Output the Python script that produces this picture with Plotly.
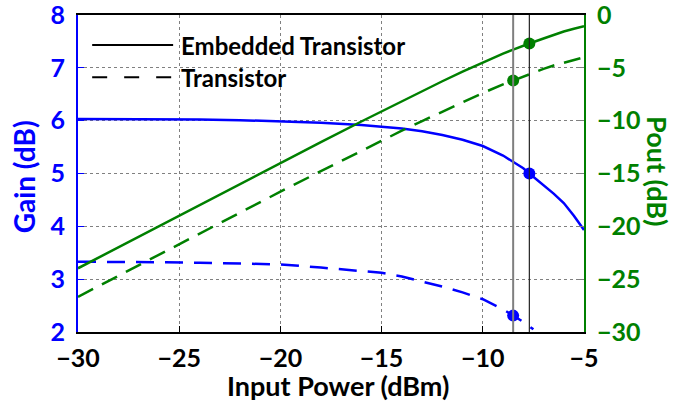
import plotly.graph_objects as go

# ---- data ----
pin_emb = [-30, -28, -26, -24, -22, -20, -18, -16, -15, -14, -13, -12, -11, -10, -9, -8.5, -8, -7.7, -7, -6.5, -6, -5.5, -5]
gain_emb = [6.03, 6.03, 6.02, 6.02, 6.01, 5.99, 5.96, 5.92, 5.89, 5.85, 5.80, 5.73, 5.64, 5.52, 5.34, 5.22, 5.10, 5.00, 4.78, 4.62, 4.44, 4.20, 3.93]
pout_emb = [-23.97, -21.97, -19.98, -17.98, -15.99, -14.01, -12.04, -10.08, -9.11, -8.15, -7.20, -6.27, -5.36, -4.48, -3.66, -3.28, -2.90, -2.70, -2.22, -1.88, -1.56, -1.30, -1.07]

pin_tr_gain = [-30, -28, -26, -24, -22, -20, -18, -16, -15, -14, -13, -12, -11, -10, -9, -8.5, -8, -7.5]
gain_tr = [3.33, 3.33, 3.32, 3.31, 3.30, 3.28, 3.22, 3.16, 3.12, 3.05, 2.96, 2.86, 2.75, 2.62, 2.43, 2.31, 2.19, 2.05]
pin_tr_pout = [-30, -28, -26, -24, -22, -20, -18, -16, -15, -14, -13, -12, -11, -10, -9, -8.5, -8, -7.5, -7, -6.5, -6, -5.5, -5]
pout_tr = [-26.67, -24.67, -22.68, -20.69, -18.70, -16.72, -14.78, -12.84, -11.88, -10.95, -10.04, -9.14, -8.25, -7.38, -6.57, -6.19, -5.81, -5.45, -5.10, -4.78, -4.50, -4.24, -4.00]

marker_pin = [-7.7, -8.5]          # embedded, transistor
marker_gain = [5.00, 2.31]
marker_pout = [-2.70, -6.19]

x_ticks = [-30, -25, -20, -15, -10, -5]
gain_ticks = [2, 3, 4, 5, 6, 7, 8]
pout_ticks = [-30, -25, -20, -15, -10, -5, 0]

legend_labels = ["Embedded Transistor", "Transistor"]

BLUE = "#0000FF"
GREEN = "#008000"
FONT = "Lato"

fig = go.Figure()

# vertical reference lines
fig.add_vline(x=marker_pin[1], line=dict(color="#7f7f7f", width=2))
fig.add_vline(x=marker_pin[0], line=dict(color="#222222", width=1.2))

fig.add_trace(go.Scatter(x=pin_emb, y=gain_emb, mode="lines", line=dict(color=BLUE, width=2.5), yaxis="y", showlegend=False))
fig.add_trace(go.Scatter(x=pin_tr_gain, y=gain_tr, mode="lines", line=dict(color=BLUE, width=2.5, dash="18px,11px"), yaxis="y", showlegend=False))
fig.add_trace(go.Scatter(x=pin_emb, y=pout_emb, mode="lines", line=dict(color=GREEN, width=2.5), yaxis="y2", showlegend=False))
fig.add_trace(go.Scatter(x=pin_tr_pout, y=pout_tr, mode="lines", line=dict(color=GREEN, width=2.5, dash="17px,10px"), yaxis="y2", showlegend=False))

fig.add_trace(go.Scatter(x=marker_pin, y=marker_gain, mode="markers", marker=dict(color=BLUE, size=12), yaxis="y", showlegend=False))
fig.add_trace(go.Scatter(x=marker_pin, y=marker_pout, mode="markers", marker=dict(color=GREEN, size=12), yaxis="y2", showlegend=False))

# legend drawn with shapes and text
leg_y = [0.905, 0.804]
leg_dash = ["solid", "15px,17px"]
for lab, yy, dd in zip(legend_labels, leg_y, leg_dash):
    fig.add_shape(type="line", xref="paper", yref="paper", x0=0.028, x1=0.188, y0=yy, y1=yy,
                  line=dict(color="black", width=2, dash=dd))
    fig.add_annotation(xref="paper", yref="paper", x=0.200, y=yy, text=lab, showarrow=False,
                       xanchor="left", yanchor="middle",
                       font=dict(family=FONT, size=24, color="black", weight="bold"))

# axis titles
fig.add_annotation(xref="paper", yref="paper", x=0.514, y=-0.168, text="Input Power (dBm)", showarrow=False,
                   xanchor="center", yanchor="middle", font=dict(family=FONT, size=27, color="black", weight="bold"))
fig.add_annotation(xref="paper", yref="paper", x=-0.106, y=0.489, text="Gain (dB)", showarrow=False, textangle=-90,
                   xanchor="center", yanchor="middle", font=dict(family=FONT, size=28, color=BLUE, weight="bold"))
fig.add_annotation(xref="paper", yref="paper", x=1.144, y=0.508, text="Pout (dB)", showarrow=False, textangle=90,
                   xanchor="center", yanchor="middle", font=dict(family=FONT, size=27, color=GREEN, weight="bold"))

tick_font = 25
fig.update_layout(
    width=675, height=404,
    margin=dict(l=78, r=91, t=15, b=72, autoexpand=False),
    plot_bgcolor="white", paper_bgcolor="white",
    showlegend=False,
    xaxis=dict(range=[-30, -5], tickvals=x_ticks, showgrid=True, griddash="dot", gridcolor="#808080", gridwidth=1,
               showline=True, linecolor="black", linewidth=2, mirror=True, ticks="inside", ticklen=6, tickcolor="black",
               tickfont=dict(family=FONT, size=tick_font, color="black", weight="bold"), zeroline=False,
               ticklabelstandoff=3, ticklabeloverflow="allow", automargin=False),
    yaxis=dict(range=[2, 8], tickvals=gain_ticks, showgrid=True, griddash="dot", gridcolor="#808080", gridwidth=1,
               showline=True, linecolor=BLUE, linewidth=2, ticks="inside", ticklen=6, tickcolor=BLUE,
               tickfont=dict(family=FONT, size=tick_font, color=BLUE, weight="bold"), zeroline=False,
               ticklabelstandoff=6, ticklabeloverflow="allow", automargin=False),
    yaxis2=dict(range=[-30, 0], tickvals=pout_ticks, overlaying="y", side="right", showgrid=False,
                showline=True, linecolor=GREEN, linewidth=2, ticks="inside", ticklen=6, tickcolor="#808080",
                tickfont=dict(family=FONT, size=tick_font, color=GREEN, weight="bold"), zeroline=False,
                ticklabelstandoff=6, ticklabeloverflow="allow", automargin=False),
)

fig.write_html("out.html", config={"displayModeBar": False},
               post_script="document.body.style.margin='0';")
